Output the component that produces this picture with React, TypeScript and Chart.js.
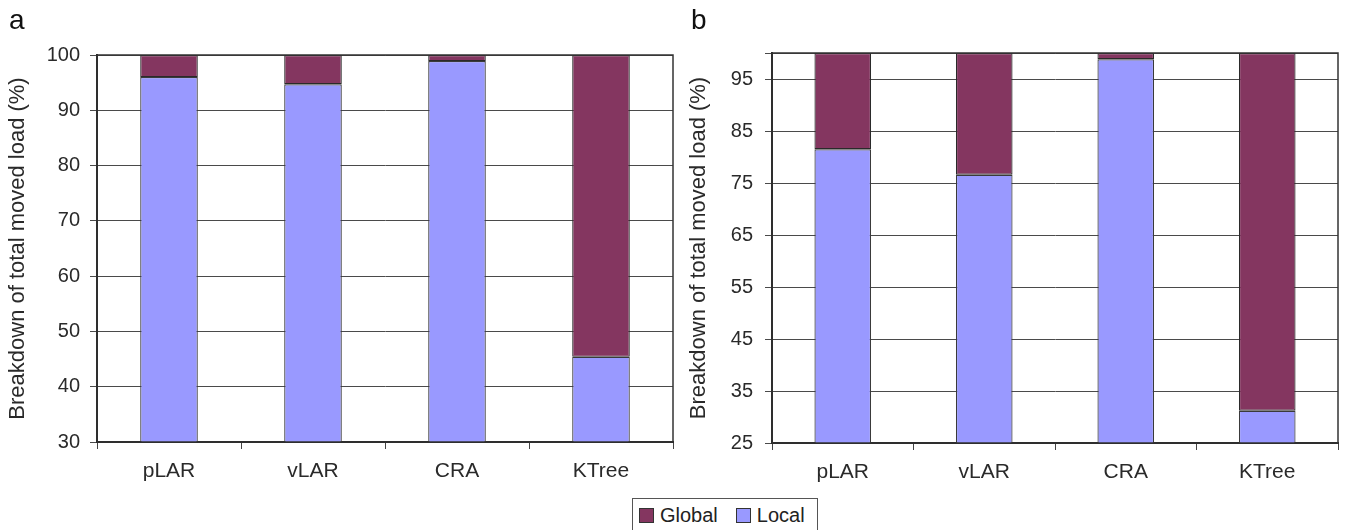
import React, { useEffect, useRef } from "react";
import { Chart, registerables } from "chart.js";

Chart.register(...registerables);

const categories = ["pLAR", "vLAR", "CRA", "KTree"];
const localA = [96.0, 94.7, 98.9, 45.4];
const globalA = [4.0, 5.3, 1.1, 54.6];
const localB = [81.5, 76.6, 98.8, 31.2];
const globalB = [18.5, 23.4, 1.2, 68.8];
const ticksA = [30, 40, 50, 60, 70, 80, 90, 100];
const ticksB = [25, 35, 45, 55, 65, 75, 85, 95, 100];
const labeledTicksB = [25, 35, 45, 55, 65, 75, 85, 95];

const GLOBAL_COLOR = "#843660";
const LOCAL_COLOR = "#9999FF";
const FONT = '"Liberation Sans", Arial, sans-serif';
const AXIS_TITLE = "Breakdown of total moved load (%)";

const framePlugin = {
  id: "frame",
  afterDatasetsDraw(chart: any) {
    const { ctx, chartArea } = chart;
    ctx.save();
    ctx.strokeStyle = "#333";
    ctx.lineWidth = 1.5;
    ctx.strokeRect(chartArea.left, chartArea.top, chartArea.right - chartArea.left, chartArea.bottom - chartArea.top);
    ctx.restore();
  },
};

interface PanelProps {
  local: number[];
  global: number[];
  min: number;
  max: number;
  ticks: number[];
  labeled: number[];
  yWidth: number;
  xHeight: number;
  padTop: number;
  padRight: number;
  tickPad: number;
  titlePad: number;
  width: number;
  height: number;
}

function Panel(p: PanelProps) {
  const ref = useRef<HTMLCanvasElement | null>(null);
  useEffect(() => {
    if (!ref.current) return;
    const chart = new Chart(ref.current, {
      type: "bar",
      data: {
        labels: categories,
        datasets: [
          {
            label: "Local",
            data: p.local,
            backgroundColor: LOCAL_COLOR,
            borderColor: "#3a3a3a",
            borderWidth: 1.2,
            borderSkipped: false,
            barPercentage: 0.4,
            categoryPercentage: 1,
          },
          {
            label: "Global",
            data: p.global,
            backgroundColor: GLOBAL_COLOR,
            borderColor: "#2a2a2a",
            borderWidth: 1.2,
            borderSkipped: false,
            barPercentage: 0.4,
            categoryPercentage: 1,
          },
        ],
      },
      options: {
        animation: false,
        responsive: false,
        maintainAspectRatio: false,
        layout: { padding: { top: p.padTop, right: p.padRight, left: 0, bottom: 0 } },
        plugins: { legend: { display: false }, tooltip: { enabled: false } },
        scales: {
          x: {
            stacked: true,
            afterFit: (s: any) => {
              s.height = p.xHeight;
            },
            grid: {
              offset: true,
              drawOnChartArea: false,
              drawTicks: true,
              tickLength: 7,
              color: "#444",
            },
            border: { display: true, color: "#222", width: 2 },
            ticks: { color: "#2a2a2a", font: { family: FONT, size: 21 }, padding: 10 },
          },
          y: {
            stacked: true,
            min: p.min,
            max: p.max,
            afterFit: (s: any) => {
              s.width = p.yWidth;
            },
            afterBuildTicks: (s: any) => {
              s.ticks = p.ticks.map((v) => ({ value: v }));
            },
            grid: { color: "#4a4a4a", lineWidth: 1, tickLength: 7 },
            border: { display: true, color: "#222", width: 2 },
            ticks: {
              color: "#2a2a2a",
              font: { family: FONT, size: 20 },
              padding: p.tickPad,
              callback: (v: any) => (p.labeled.includes(Number(v)) ? String(v) : ""),
            },
            title: {
              display: true,
              text: AXIS_TITLE,
              color: "#2a2a2a",
              font: { family: FONT, size: 22 },
              padding: { top: p.titlePad, bottom: 0 },
            },
          },
        },
      },
      plugins: [framePlugin],
    });
    return () => chart.destroy();
  }, []);
  return <canvas ref={ref} width={p.width} height={p.height} style={{ width: p.width, height: p.height, display: "block" }} />;
}

export default function App() {
  useEffect(() => {
    document.body.style.margin = "0";
    document.body.style.overflow = "hidden";
  }, []);
  const labelStyle: React.CSSProperties = {
    position: "absolute",
    fontFamily: FONT,
    fontSize: 28,
    lineHeight: "28px",
    color: "#111",
  };
  const sq = (c: string): React.CSSProperties => ({
    display: "inline-block",
    width: 13,
    height: 13,
    background: c,
    border: "1px solid #333",
    marginRight: 6,
  });
  return (
    <div style={{ position: "absolute", left: 0, top: 0, width: 1346, height: 530, overflow: "hidden", background: "#fff" }}>
      <div style={{ position: "absolute", left: 0, top: 0 }}>
        <Panel local={localA} global={globalA} min={30} max={100} ticks={ticksA} labeled={ticksA}
          yWidth={97} xHeight={48} padTop={55} padRight={7} tickPad={10} titlePad={5} width={680} height={490} />
      </div>
      <div style={{ position: "absolute", left: 680, top: 0 }}>
        <Panel local={localB} global={globalB} min={25} max={100} ticks={ticksB} labeled={labeledTicksB}
          yWidth={92} xHeight={47} padTop={53} padRight={8} tickPad={12} titlePad={6} width={666} height={490} />
      </div>
      <div style={{ ...labelStyle, left: 9, top: 6 }}>a</div>
      <div style={{ ...labelStyle, left: 691, top: 6 }}>b</div>
      <div
        style={{
          position: "absolute",
          left: 632,
          top: 498,
          width: 186,
          height: 40,
          border: "1px solid #555",
          boxSizing: "border-box",
          fontFamily: FONT,
          fontSize: 20,
          color: "#222",
          display: "flex",
          alignItems: "flex-start",
          paddingLeft: 6,
          paddingTop: 5,
        }}
      >
        <span style={{ display: "flex", alignItems: "center", marginRight: 18 }}>
          <span style={sq(GLOBAL_COLOR)} />
          <span>Global</span>
        </span>
        <span style={{ display: "flex", alignItems: "center" }}>
          <span style={sq(LOCAL_COLOR)} />
          <span>Local</span>
        </span>
      </div>
    </div>
  );
}
